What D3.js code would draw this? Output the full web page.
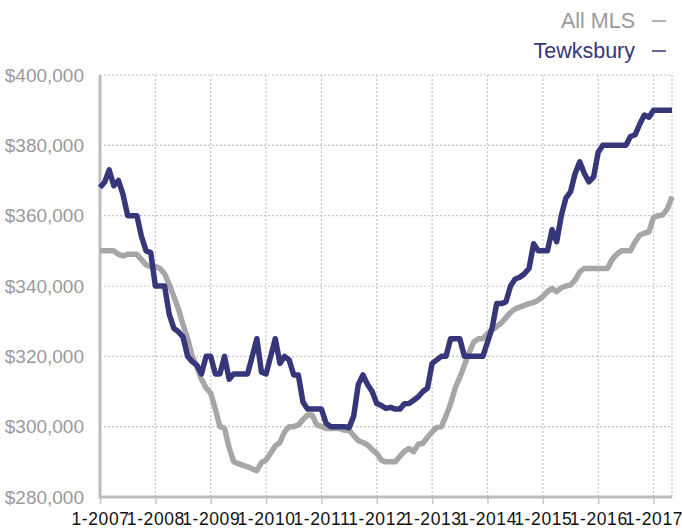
<!DOCTYPE html>
<html>
<head>
<meta charset="utf-8">
<script src="https://cdn.jsdelivr.net/npm/d3@7"></script>
<style>
  body { margin: 0; background: #fff; }
  svg { display: block; font-family: "Liberation Sans", Arial, Helvetica, sans-serif; }
</style>
</head>
<body>
<div id="plot"></div>
<script>
// Median price, monthly from 1-2007 to 5-2017
const tickLabels = ["1-2007", "1-2008", "1-2009", "1-2010", "1-2011", "1-2012",
                    "1-2013", "1-2014", "1-2015", "1-2016", "1-2017"];
const yTicks = [280000, 300000, 320000, 340000, 360000, 380000, 400000];

const tewksbury = [
  368000, 369500, 373000, 368500, 370000, 366000, 360000, 360000, 360000, 354000, 350000, 349500,
  340000, 340000, 340000, 332000, 328000, 327000, 325500, 320000, 318500, 317500, 315000, 320000,
  320000, 315000, 315000, 320000, 313500, 315000, 315000, 315000, 315000, 320000, 325000, 315500,
  315000, 320000, 325000, 318000, 320000, 319000, 314700, 314700, 307000, 305000, 305000, 305000,
  305000, 301000, 300000, 300000, 300000, 300000, 299700, 303000, 312000, 314700, 312000, 310000,
  306600, 306000, 305200, 305500, 305000, 305000, 306500, 306600, 307500, 308500, 310000, 311000,
  318000, 319000, 320000, 320000, 325000, 325000, 325000, 320000, 320000, 320000, 320000, 320000,
  324000, 328000, 335000, 335000, 335500, 340000, 342000, 342500, 343500, 345000, 352000, 350000,
  350000, 350000, 356000, 352600, 360000, 365000, 366800, 372000, 375300, 372000, 369600, 371000,
  378000, 380000, 380000, 380000, 380000, 380000, 380000, 382500, 383000, 386000, 388600, 388000,
  390000, 390000, 390000, 390000, 390000
];

const allMls = [
  350000, 350000, 350000, 350000, 349000, 348600, 349000, 349000, 349000, 347500, 346000, 345500,
  345500, 345000, 343500, 340500, 337000, 333500, 329000, 325000, 320000, 317000, 313500, 311000,
  309500, 305000, 300000, 299500, 294000, 290000, 289500, 289000, 288600, 288000, 287500, 289800,
  290500, 292500, 294500, 295500, 298500, 300000, 300000, 300500, 302000, 303300, 303300, 300500,
  300000, 299500, 299500, 299500, 299500, 299000, 299000, 297500, 296000, 295500, 294800, 293500,
  292400, 290500, 290000, 290000, 290000, 291500, 293000, 293800, 292900, 295000, 295300, 297000,
  298500, 299800, 300000, 303000, 306500, 311000, 314000, 317500, 321000, 324000, 325000, 325000,
  326500, 327500, 328500, 329500, 331000, 332500, 333500, 334000, 334500, 335000, 335300, 336000,
  337000, 338400, 339300, 338400, 339500, 340000, 340300, 341700, 344000, 345000, 345000, 345000,
  345000, 345000, 345000, 347500, 349000, 350000, 350000, 350000, 352500, 354500, 355000, 355400,
  359500, 360000, 360200, 362000, 365400
];

const seriesNames = ["All MLS", "Tewksbury"];
const seriesColors = ["#a6a6a6", "#36367a"];

const W = 682, H = 529;
const plot = { left: 100, right: 672, top: 75, bottom: 497 };

const svg = d3.select("#plot").append("svg")
    .attr("width", W)
    .attr("height", H);

const x = d3.scaleLinear().domain([0, tewksbury.length - 1]).range([plot.left, plot.right]);
const y = d3.scaleLinear().domain([280000, 400000]).range([plot.bottom, plot.top]);

const tickIdx = tickLabels.map((d, i) => i * 12);

// grid
svg.append("g").selectAll("line")
  .data(yTicks.slice(1))
  .enter().append("line")
    .attr("x1", plot.left).attr("x2", plot.right)
    .attr("y1", d => y(d)).attr("y2", d => y(d))
    .attr("stroke", "#c4c4c4").attr("stroke-width", 1.2)
    .attr("stroke-dasharray", "2,2");

svg.append("g").selectAll("line")
  .data(tickIdx.slice(1).concat([tewksbury.length - 1]))
  .enter().append("line")
    .attr("x1", d => x(d)).attr("x2", d => x(d))
    .attr("y1", plot.top).attr("y2", plot.bottom)
    .attr("stroke", "#c4c4c4").attr("stroke-width", 1.2)
    .attr("stroke-dasharray", "2,2");

// x axis
const xAxis = d3.axisBottom(x)
    .tickValues(tickIdx)
    .tickFormat((d, i) => tickLabels[i])
    .tickSize(7)
    .tickPadding(8.5);

const gx = svg.append("g")
    .attr("transform", `translate(0,${plot.bottom})`)
    .call(xAxis);
gx.select(".domain").remove();
gx.selectAll(".tick line").attr("stroke", "#c8c8c8").attr("stroke-width", 1.5);
gx.selectAll(".tick text")
    .attr("fill", "#111")
    .style("font-size", "17.5px")
    .style("letter-spacing", "0.6px")
    .style("font-family", "'Liberation Sans', Arial, sans-serif");

// y axis labels
const yAxis = d3.axisLeft(y)
    .tickValues(yTicks)
    .tickFormat(d => "$" + d3.format(",")(d))
    .tickSize(0)
    .tickPadding(16);

const gy = svg.append("g")
    .attr("transform", `translate(${plot.left},0)`)
    .call(yAxis);
gy.select(".domain").remove();
gy.selectAll(".tick text")
    .attr("fill", "#9a9a9a")
    .style("font-size", "19px")
    .style("font-family", "'Liberation Sans', Arial, sans-serif");

// axis lines
svg.append("line")
    .attr("x1", plot.left).attr("x2", plot.left)
    .attr("y1", plot.top).attr("y2", plot.bottom + 1.5)
    .attr("stroke", "#bdbdbd").attr("stroke-width", 3);
svg.append("line")
    .attr("x1", plot.left).attr("x2", plot.right)
    .attr("y1", plot.bottom).attr("y2", plot.bottom)
    .attr("stroke", "#bdbdbd").attr("stroke-width", 3);

// lines
const line = d3.line()
    .x((d, i) => x(i))
    .y(d => y(d));

[allMls, tewksbury].forEach((s, k) => {
  svg.append("path")
      .datum(s)
      .attr("fill", "none")
      .attr("stroke", seriesColors[k])
      .attr("stroke-width", 5.5)
      .attr("stroke-linejoin", "round")
      .attr("d", line);
});

// legend
const legend = svg.append("g");
seriesNames.forEach((name, k) => {
  const ly = 28 + k * 30;
  legend.append("text")
      .attr("x", 635).attr("y", ly)
      .attr("text-anchor", "end")
      .attr("fill", k === 0 ? "#9a9a9a" : seriesColors[1])
      .style("font-size", "21.5px")
      .text(name);
  legend.append("line")
      .attr("x1", 652).attr("x2", 666)
      .attr("y1", ly - 7).attr("y2", ly - 7)
      .attr("stroke", k === 0 ? "#9a9a9a" : seriesColors[1])
      .attr("stroke-width", 1.5);
});
</script>
</body>
</html>
